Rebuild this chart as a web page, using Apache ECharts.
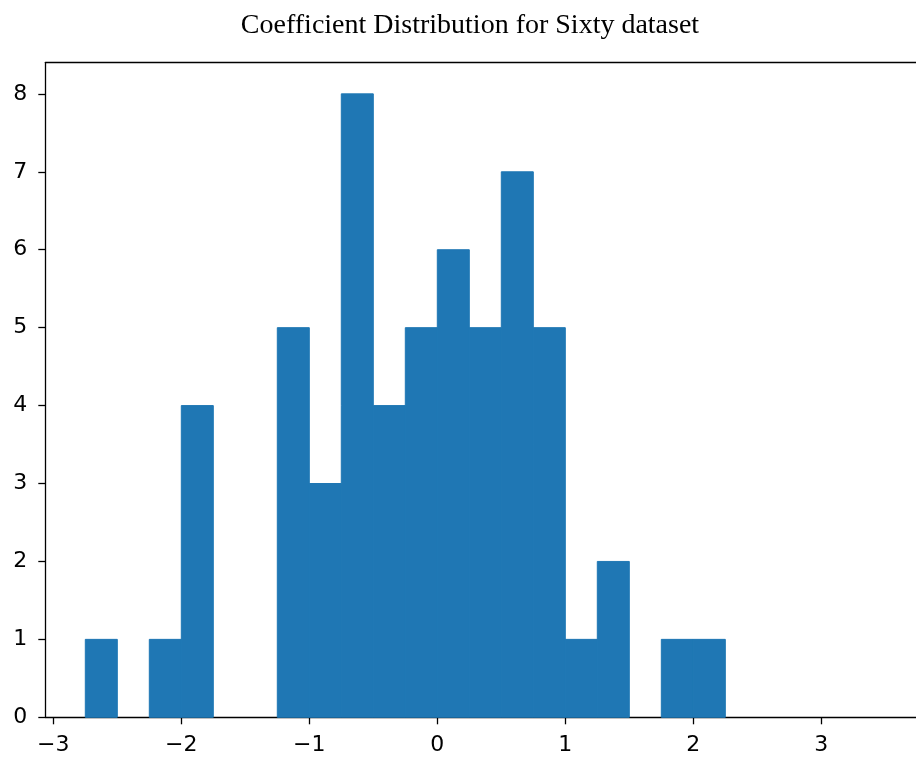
<!DOCTYPE html>
<html>
<head>
<meta charset="utf-8">
<script src="https://cdn.jsdelivr.net/npm/echarts@6/dist/echarts.min.js"></script>
<style>
html,body{margin:0;padding:0;background:#fff;}
#chart{width:916px;height:758px;}
</style>
</head>
<body>
<div id="chart"></div>
<script>
// Histogram bin edges (left, right) and counts
const binLeft  = [-2.75, -2.25, -2.0, -1.25, -1.0, -0.75, -0.5, -0.25, 0.0, 0.25, 0.5, 0.75, 1.0, 1.25, 1.75, 2.0];
const binRight = [-2.5, -2.0, -1.75, -1.0, -0.75, -0.5, -0.25, 0.0, 0.25, 0.5, 0.75, 1.0, 1.25, 1.5, 2.0, 2.25];
const counts   = [1, 1, 4, 5, 3, 8, 4, 5, 6, 5, 7, 5, 1, 2, 1, 1];
const xTicks = [-3, -2, -1, 0, 1, 2, 3];
const yTicks = [0, 1, 2, 3, 4, 5, 6, 7, 8];
const titleText = 'Coefficient Distribution for Sixty dataset';

const data = binLeft.map((l, i) => [l, binRight[i], counts[i]]);

const chart = echarts.init(document.getElementById('chart'), null, {renderer: 'canvas'});
const tickFont = {fontFamily: 'DejaVu Sans', fontSize: 22, color: '#000'};
chart.setOption({
  animation: false,
  backgroundColor: '#fff',
  title: {
    text: titleText,
    left: 465, top: 7, textAlign: 'center',
    textStyle: {fontFamily: 'Liberation Serif', fontSize: 28, fontWeight: 'normal', color: '#000'}
  },
  grid: {left: 45.3, top: 62.7, right: 0, bottom: 40.7},
  xAxis: [{
    type: 'value', min: -3.0625, max: 3.7397,
    axisLine: {show: true, onZero: false, lineStyle: {color: '#000', width: 1.3}},
    axisTick: {show: true, length: 7, customValues: xTicks, lineStyle: {color: '#000', width: 1.3}},
    axisLabel: {customValues: xTicks, margin: 17, ...tickFont,
      formatter: v => (v < 0 ? '\u2212' + Math.abs(v) : String(v))},
    splitLine: {show: false}
  }, {
    type: 'value', position: 'top', min: -3.0625, max: 3.7397,
    axisLine: {show: true, onZero: false, lineStyle: {color: '#000', width: 1.3}},
    axisTick: {show: false}, axisLabel: {show: false}, splitLine: {show: false}
  }],
  yAxis: {
    type: 'value', min: 0, max: 8.4,
    axisLine: {show: true, onZero: false, lineStyle: {color: '#000', width: 1.3}},
    axisTick: {show: true, length: 7, customValues: yTicks, lineStyle: {color: '#000', width: 1.3}},
    axisLabel: {customValues: yTicks, margin: 18, ...tickFont},
    splitLine: {show: false}
  },
  series: [{
    type: 'custom',
    xAxisIndex: 0,
    data: data,
    renderItem: function (params, api) {
      const p0 = api.coord([api.value(0), 0]);
      const p1 = api.coord([api.value(1), api.value(2)]);
      return {
        type: 'rect',
        shape: {x: p0[0], y: p1[1], width: p1[0] - p0[0], height: p0[1] - p1[1]},
        style: {fill: '#1f77b4', stroke: '#1f77b4', lineWidth: 1}
      };
    },
    encode: {x: [0, 1], y: 2}
  }]
});
</script>
</body>
</html>
